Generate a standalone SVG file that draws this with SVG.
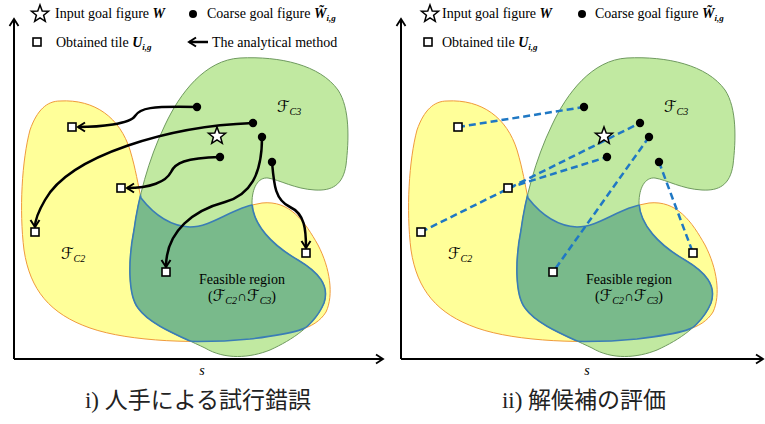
<svg xmlns="http://www.w3.org/2000/svg" xmlns:xlink="http://www.w3.org/1999/xlink" width="765" height="424" viewBox="0 0 765 424">
<style>
  .t { font-family: "Liberation Serif", "Times New Roman", serif; font-size: 14px; fill: #000; }
  .bi { font-weight: bold; font-style: italic; }
  .sub { font-size: 9px; font-weight: bold; font-style: italic; }
  .scr { font-family: "DejaVu Serif", "DejaVu Sans", serif; font-size: 16px; font-style: italic; }
  .cs { font-family: "Liberation Serif", serif; font-style: italic; font-size: 10px; }
  .cap { font-family: "Liberation Serif", "Noto Sans CJK JP", sans-serif; font-size: 23px; fill: #222; }
  .axis { stroke: #000; stroke-width: 2; fill: none; }
  .arr { stroke: #000; stroke-width: 2.5; fill: none; marker-end: url(#vh); }
  .dash { stroke: #1f78c4; stroke-width: 2.5; fill: none; stroke-dasharray: 7 4; }
  .tile { fill: #fff; stroke: #000; stroke-width: 1.6; }
  .dot { fill: #000; }
  .star { fill: #fff; stroke: #000; stroke-width: 1.5; stroke-linejoin: miter; }
  .c2 { fill: #ffff99; stroke: #f09a3c; stroke-width: 1; }
  .c3 { fill: #c1e9a1; stroke: #6f9a5f; stroke-width: 1; }
  .ix { fill: #79ba8b; stroke: #3a7db6; stroke-width: 1.6; }
  .ixs { fill: none; stroke: #3a7db6; stroke-width: 1.6; }
</style>
<defs>
  <path id="pC2" d="M 60,101 C 95,99 120,118 130,150 C 136,170 138,185 141,198 C 152,212 168,226 190,227 C 213,227 232,207 262,203 C 290,200 305,222 318,245 C 330,268 334,295 326,312 C 315,330 290,334 250,339 C 200,344 130,342 90,328 C 50,314 30,290 24,250 C 19,210 22,160 30,130 C 37,110 47,101 60,101 Z"/>
  <path id="pC3" d="M 240,58 C 280,56 320,65 338,90 C 350,108 349,140 346,165 C 343,185 332,191 315,190 C 295,189 280,180 268,178 C 258,177 252,188 252,203 C 253,225 272,245 298,260 C 318,272 330,285 324,303 C 315,325 292,340 270,350 C 250,358 225,360 205,348 C 180,336 150,325 138,308 C 128,295 128,260 134,230 C 138,200 148,160 165,125 C 180,93 205,60 240,58 Z"/>
  <clipPath id="clipC2"><use xlink:href="#pC2"/></clipPath>
  <clipPath id="clipC3"><use xlink:href="#pC3"/></clipPath>
  <polygon id="star" points="0,-9 2.23,-3.07 8.56,-2.78 3.61,1.17 5.29,7.28 0,3.8 -5.29,7.28 -3.61,1.17 -8.56,-2.78 -2.23,-3.07"/>
  <marker id="vh" viewBox="-10 -6 12 12" refX="0" refY="0" markerWidth="12" markerHeight="12" markerUnits="userSpaceOnUse" orient="auto">
    <path d="M -7,-4.5 L 0,0 L -7,4.5" fill="none" stroke="#000" stroke-width="2"/>
  </marker>
  <marker id="ah" viewBox="-10 -6 12 12" refX="0" refY="0" markerWidth="12" markerHeight="12" markerUnits="userSpaceOnUse" orient="auto">
    <path d="M -7,-4.5 L 0,0 L -7,4.5" fill="none" stroke="#000" stroke-width="1.8"/>
  </marker>
  <g id="regions">
    <use xlink:href="#pC2" class="c2"/>
    <use xlink:href="#pC3" class="c3"/>
    <g clip-path="url(#clipC2)"><use xlink:href="#pC3" class="ix"/></g>
    <g clip-path="url(#clipC3)"><use xlink:href="#pC2" class="ixs"/></g>
  </g>
  <g id="labels">
    <text class="scr" x="277" y="112">ℱ<tspan class="cs" dy="3">C3</tspan></text>
    <text class="scr" x="61" y="259">ℱ<tspan class="cs" dy="3">C2</tspan></text>
    <text class="t" x="242" y="284" text-anchor="middle" font-size="14.5">Feasible region</text>
    <text class="t" x="242" y="301" text-anchor="middle" font-size="14.5">(<tspan class="scr">ℱ</tspan><tspan class="cs" dy="3">C2</tspan><tspan dy="-3">∩</tspan><tspan class="scr">ℱ</tspan><tspan class="cs" dy="3">C3</tspan><tspan dy="-3">)</tspan></text>
  </g>
</defs>

<!-- Left panel -->
<g id="panel-left">
  <g id="left-regions"><use xlink:href="#regions"/></g>
  <g id="left-region-labels"><use xlink:href="#labels"/></g>
  <g id="left-axes">
    <path class="axis" d="M 14,359 L 14,19" marker-end="url(#ah)"/>
    <path class="axis" d="M 14,359 L 383,359" marker-end="url(#ah)"/>
    <text class="t" x="202" y="375" text-anchor="middle" font-style="italic" font-size="15">s</text>
  </g>
  <g id="left-legend">
    <use xlink:href="#star" class="star" x="40" y="14"/>
    <text class="t" x="55" y="18">Input goal figure <tspan class="bi">W</tspan></text>
    <circle class="dot" cx="193" cy="14" r="4"/>
    <text class="t" x="207" y="18">Coarse goal figure <tspan class="bi">W̃</tspan><tspan class="sub" dy="3">i,g</tspan></text>
    <rect class="tile" x="33" y="38" width="8" height="8"/>
    <text class="t" x="56" y="47">Obtained tile <tspan class="bi">U</tspan><tspan class="sub" dy="3">i,g</tspan></text>
    <path class="arr" d="M 208,42 L 189,42" marker-end="url(#vh)"/>
    <text class="t" x="212" y="47">The analytical method</text>
  </g>
  <g id="left-connectors">
    <path class="arr" d="M 197,107 C 150,106 140,108 135,116 C 130,124 100,127 78,127"/>
    <path class="arr" d="M 253,123 C 170,126 70,155 45,200 C 38,212 35,219 35,227"/>
    <path class="arr" d="M 220,157 C 185,158 175,163 171,172 C 166,182 150,188 127,188"/>
    <path class="arr" d="M 262,137 C 262,175 250,195 225,202 C 195,210 166,230 166,267"/>
    <path class="arr" d="M 272,162 C 274,185 275,200 290,207 C 305,214 306,230 306,248"/>
  </g>
  <g id="left-nodes">
    <g id="L-goal"><use xlink:href="#star" class="star" x="217" y="136"/></g>
    <g id="L-coarse1"><circle class="dot" cx="197" cy="107" r="4.2"/></g>
    <g id="L-coarse2"><circle class="dot" cx="253" cy="123" r="4.2"/></g>
    <g id="L-coarse3"><circle class="dot" cx="262" cy="137" r="4.2"/></g>
    <g id="L-coarse4"><circle class="dot" cx="220" cy="157" r="4.2"/></g>
    <g id="L-coarse5"><circle class="dot" cx="272" cy="162" r="4.2"/></g>
    <g id="L-tile1"><rect class="tile" x="68" y="123" width="8" height="8"/></g>
    <g id="L-tile2"><rect class="tile" x="117" y="184" width="8" height="8"/></g>
    <g id="L-tile3"><rect class="tile" x="31" y="228" width="8" height="8"/></g>
    <g id="L-tile4"><rect class="tile" x="162" y="268" width="8" height="8"/></g>
    <g id="L-tile5"><rect class="tile" x="302" y="249" width="8" height="8"/></g>
  </g>
  <text class="cap" x="198" y="408" text-anchor="middle">i) 人手による試行錯誤</text>
</g>

<!-- Right panel -->
<g id="panel-right">
  <g id="right-regions"><use xlink:href="#regions" transform="translate(387,0)"/></g>
  <g id="right-region-labels"><use xlink:href="#labels" transform="translate(387,0)"/></g>
  <g id="right-axes">
    <path class="axis" d="M 401,359 L 401,19" marker-end="url(#ah)"/>
    <path class="axis" d="M 401,359 L 763,359" marker-end="url(#ah)"/>
    <text class="t" x="587" y="375" text-anchor="middle" font-style="italic" font-size="15">s</text>
  </g>
  <g id="right-legend">
    <use xlink:href="#star" class="star" x="430" y="14"/>
    <text class="t" x="442" y="18">Input goal figure <tspan class="bi">W</tspan></text>
    <circle class="dot" cx="582" cy="14" r="4"/>
    <text class="t" x="595" y="18">Coarse goal figure <tspan class="bi">W̃</tspan><tspan class="sub" dy="3">i,g</tspan></text>
    <rect class="tile" x="424" y="38" width="8" height="8"/>
    <text class="t" x="442" y="47">Obtained tile <tspan class="bi">U</tspan><tspan class="sub" dy="3">i,g</tspan></text>
  </g>
  <g id="right-connectors">
    <path class="dash" d="M 458,127 L 584,107"/>
    <path class="dash" d="M 421,232 L 640,123"/>
    <path class="dash" d="M 508,188 L 607,157"/>
    <path class="dash" d="M 649,137 L 553,272"/>
    <path class="dash" d="M 659,162 L 693,253"/>
  </g>
  <g id="right-nodes">
    <g id="R-goal"><use xlink:href="#star" class="star" x="604" y="136"/></g>
    <g id="R-coarse1"><circle class="dot" cx="584" cy="107" r="4.2"/></g>
    <g id="R-coarse2"><circle class="dot" cx="640" cy="123" r="4.2"/></g>
    <g id="R-coarse3"><circle class="dot" cx="649" cy="137" r="4.2"/></g>
    <g id="R-coarse4"><circle class="dot" cx="607" cy="157" r="4.2"/></g>
    <g id="R-coarse5"><circle class="dot" cx="659" cy="162" r="4.2"/></g>
    <g id="R-tile1"><rect class="tile" x="454" y="123" width="8" height="8"/></g>
    <g id="R-tile2"><rect class="tile" x="504" y="184" width="8" height="8"/></g>
    <g id="R-tile3"><rect class="tile" x="417" y="228" width="8" height="8"/></g>
    <g id="R-tile4"><rect class="tile" x="549" y="268" width="8" height="8"/></g>
    <g id="R-tile5"><rect class="tile" x="689" y="249" width="8" height="8"/></g>
  </g>
  <text class="cap" x="584" y="408" text-anchor="middle">ii) 解候補の評価</text>
</g>
</svg>
